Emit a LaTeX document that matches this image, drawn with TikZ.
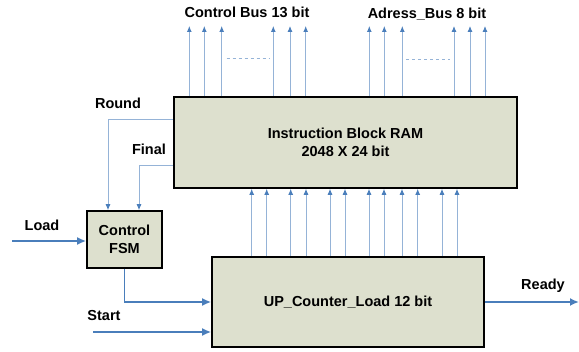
\documentclass[tikz,border=0pt]{standalone}
\usepackage{fontspec}
\setmainfont{Liberation Sans}
\usetikzlibrary{arrows.meta}

\definecolor{boxfill}{RGB}{221,224,206}
\definecolor{wireblue}{RGB}{74,126,187}
\definecolor{thinblue}{RGB}{149,179,215}

\tikzset{
  block/.style={draw=black,line width=1.6pt,fill=boxfill,align=center,inner sep=0pt},
  thinwire/.style={draw=thinblue,line width=0.9pt,-{Latex[length=6pt,width=5pt,color=wireblue]}},
  thickwire/.style={draw=wireblue,line width=1.8pt,-{Latex[length=9pt,width=8pt]}},
  lbl/.style={inner sep=0pt}
}

\begin{document}
\begin{tikzpicture}[x=1pt,y=-1pt,font=\bfseries\fontsize{14.5}{18}\selectfont]
  \useasboundingbox (0,0) rectangle (579,352);

  % blocks
  \node[block,minimum width=343pt,minimum height=91pt] (ram) at (345.5,142.5) {Instruction Block RAM\\2048 X 24 bit};
  \node[block,minimum width=272pt,minimum height=90pt] (cnt) at (348,302) {UP\_Counter\_Load 12 bit};
  \node[block,minimum width=75pt,minimum height=57pt] (fsm) at (124.5,239.5) {Control\\FSM};

  % free ends
  \coordinate (load)  at (12,241);
  \coordinate (start) at (93,332);
  \coordinate (ready) at (579,302);

  % labels
  \node[lbl] (ctrlbus) at (247,12)  {Control Bus 13 bit};
  \node[lbl] (adrbus)  at (427,14)  {Adress\_Bus 8 bit};
  \node[lbl] (round)   at (118,103) {Round};
  \node[lbl] (final)   at (149,149) {Final};
  \node[lbl] (loadl)   at (42,225)  {Load};
  \node[lbl] (startl)  at (104,316) {Start};
  \node[lbl] (readyl)  at (543,286) {Ready};

  % output buses
  \foreach \x in {189.3,204.3,221.7,273.3,290,305.7,369.3,384.3,402.3,454,470,485}
    \draw[thinwire] (\x,0 |- ram.north) -- (\x,26);
  \draw[thinblue,line width=0.9pt,dashed] (226.7,58) -- (270,58);
  \draw[thinblue,line width=0.9pt,dashed] (406,59) -- (450,59);

  % address from counter
  \foreach \x in {251.7,266.7,290.7,306,330,345,369,384,402,417.7,442,457}
    \draw[thinwire] (\x,0 |- cnt.north) -- (\x,0 |- ram.south);

  % feedback
  \draw[thinwire] (ram.west |- 0,119) -| (108,0 |- fsm.north);
  \draw[thinwire] (ram.west |- 0,165) -| (139,0 |- fsm.north);

  % control
  \draw[thickwire] (load) -- (fsm.west |- load);
  \draw[thickwire] (fsm.south) |- (cnt.west);
  \draw[thickwire] (start) -- (cnt.west |- start);
  \draw[thickwire] (cnt.east) -- (ready);

\end{tikzpicture}
\end{document}
